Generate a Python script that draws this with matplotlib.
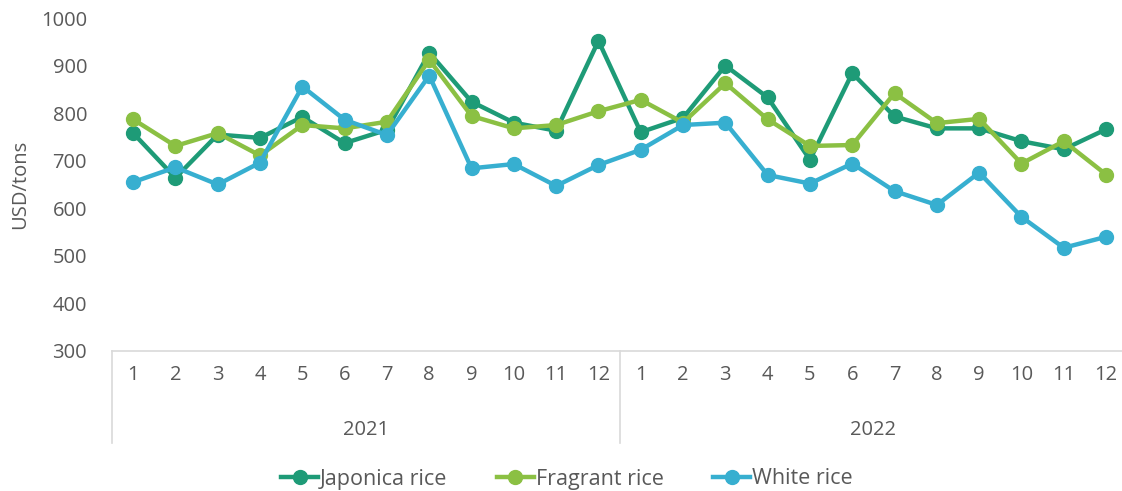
import numpy as np
import matplotlib.pyplot as plt
import matplotlib.transforms as mtransforms
from matplotlib.lines import Line2D

plt.rcParams['font.family'] = ['Open Sans', 'DejaVu Sans']

months = [str(m) for m in range(1, 13)] * 2
years = ['2021', '2022']

japonica = [758, 664, 755, 748, 792, 737, 765, 927, 824, 780, 763, 952,
            760, 790, 900, 833, 702, 884, 793, 768, 768, 741, 724, 766]
fragrant = [787, 731, 758, 711, 775, 768, 782, 912, 794, 768, 775, 804,
            828, 780, 863, 787, 731, 733, 842, 779, 788, 694, 741, 671]
white = [655, 686, 650, 696, 856, 786, 754, 879, 684, 693, 647, 691,
         723, 775, 780, 670, 652, 694, 636, 607, 675, 582, 517, 540]

series = [('Japonica rice', japonica, '#1e9b77'),
          ('Fragrant rice', fragrant, '#8bc043'),
          ('White rice', white, '#37afd0')]

fs = 14.5
fig = plt.figure(figsize=(11.22, 4.91), dpi=100)
ax = fig.add_axes([112 / 1122, (491 - 351) / 491, 1010 / 1122, 333 / 491])

x = np.arange(len(months))
for name, vals, col in series:
    ax.plot(x, vals, color=col, lw=3.2, marker='o', ms=10, label=name)

ax.set_ylim(300, 1000)
ax.set_yticks(range(300, 1001, 100))
ax.set_xlim(-0.5, -0.5 + 1010 / 42.3)
ax.set_xticks(x)
ax.set_xticklabels(months)
ax.tick_params(axis='both', length=0, labelsize=fs, labelcolor='#595959')
ax.tick_params(axis='x', pad=10)
ax.tick_params(axis='y', pad=18)
for s in ['top', 'right', 'left']:
    ax.spines[s].set_visible(False)
ax.spines['bottom'].set_color('#d9d9d9')
ax.spines['bottom'].set_linewidth(1.2)
ax.set_ylabel('USD/tons', fontsize=fs, color='#595959', labelpad=8)

trans = mtransforms.blended_transform_factory(ax.transData, ax.transAxes)
bottom = -(443 - 351) / 333
for xs in [-0.5, 11.5, 23.4]:
    ax.plot([xs, xs], [0, bottom], color='#d9d9d9', lw=1.2,
            transform=trans, clip_on=False)
for i, yr in enumerate(years):
    ax.text(5.5 + 12 * i, -(430 - 351) / 333, yr, transform=trans,
            ha='center', va='center', fontsize=fs, color='#595959')

handles = [Line2D([0], [0], color=c, lw=3.2, marker='o', ms=10) for _, _, c in series]
fig.legend(handles, [n for n, _, _ in series], loc='center',
           bbox_to_anchor=(567 / 1122, 1 - 479 / 491), ncol=3, frameon=False,
           fontsize=15.5, labelcolor='#595959', handlelength=1.7,
           handletextpad=0.1, columnspacing=2.3)

fig.savefig('out.png', dpi=100)
